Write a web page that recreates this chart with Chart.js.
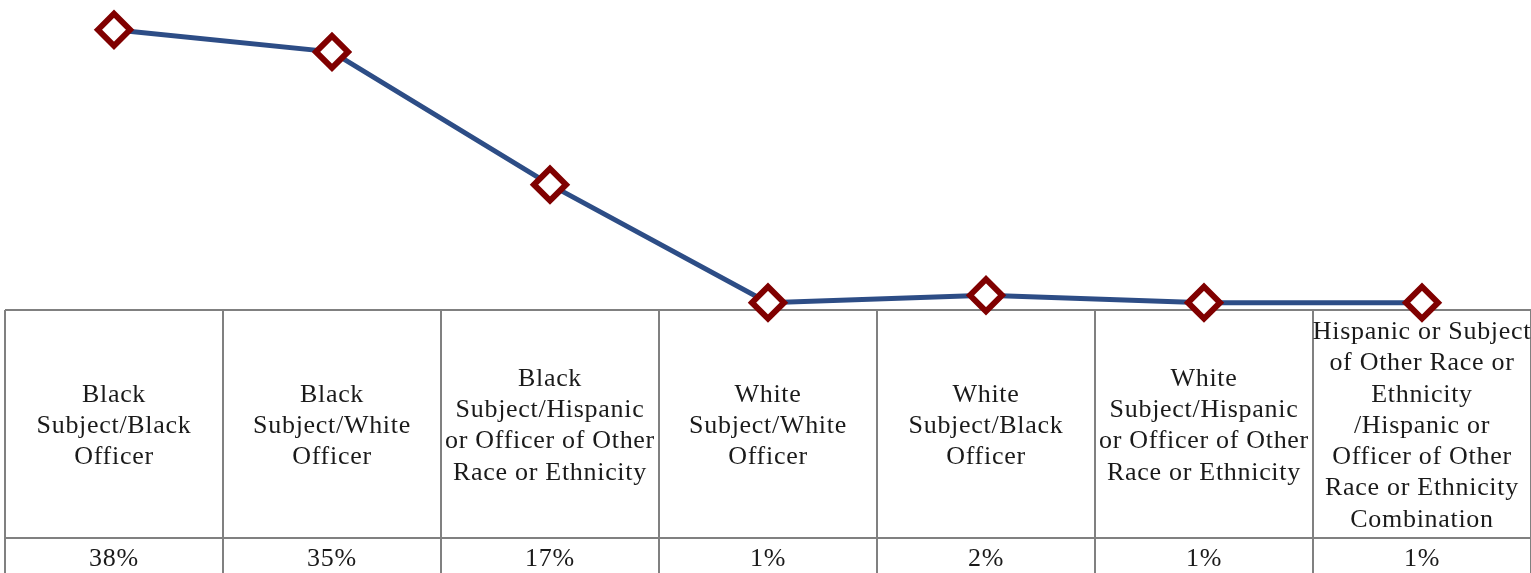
<!DOCTYPE html>
<html>
<head>
<meta charset="utf-8">
<script src="https://cdn.jsdelivr.net/npm/chart.js@4"></script>
<style>
  html, body { margin: 0; padding: 0; background: #fff; }
  #wrap { width: 1531px; height: 573px; position: relative; }
</style>
</head>
<body>
<div id="wrap"><canvas id="c"></canvas></div>
<script>
// Subject/officer race pairings (label lines as wrapped in the table)
const categories = [
  ["Black", "Subject/Black", "Officer"],
  ["Black", "Subject/White", "Officer"],
  ["Black", "Subject/Hispanic", "or Officer of Other", "Race or Ethnicity"],
  ["White", "Subject/White", "Officer"],
  ["White", "Subject/Black", "Officer"],
  ["White", "Subject/Hispanic", "or Officer of Other", "Race or Ethnicity"],
  ["Hispanic or Subject", "of Other Race or", "Ethnicity", "/Hispanic or", "Officer of Other", "Race or Ethnicity", "Combination"]
];
const shares = [38, 35, 17, 1, 2, 1, 1];
const valueLabels = ["38%", "35%", "17%", "1%", "2%", "1%", "1%"];

const FONT = '26px "Liberation Serif", serif';
const TABLE_H = 263;
const LABEL_ROW_H = 228;

// Draws the data table (labels + percentages) beneath the plot area
const dataTable = {
  id: 'dataTable',
  beforeDatasetsDraw(chart) {
    const { ctx, chartArea, scales } = chart;
    const x = scales.x;
    const n = categories.length;
    const step = x.getPixelForValue(1) - x.getPixelForValue(0);
    const top = chartArea.bottom;
    const left = x.getPixelForValue(0) - step / 2;
    const right = x.getPixelForValue(n - 1) + step / 2;
    const bottom = top + TABLE_H + 20;
    const rowSplit = top + LABEL_ROW_H;

    ctx.save();
    ctx.strokeStyle = '#808080';
    ctx.lineWidth = 2;
    ctx.beginPath();
    ctx.moveTo(left, top); ctx.lineTo(right, top);
    ctx.moveTo(left, rowSplit); ctx.lineTo(right, rowSplit);
    for (let i = 0; i <= n; i++) {
      const gx = left + i * step;
      ctx.moveTo(gx, top); ctx.lineTo(gx, bottom);
    }
    ctx.stroke();

    ctx.fillStyle = '#1a1a1a';
    ctx.font = FONT;
    if ('letterSpacing' in ctx) ctx.letterSpacing = '0.7px';
    ctx.textAlign = 'center';
    ctx.textBaseline = 'middle';
    const lh = 31.3;
    const midLabel = (top + rowSplit) / 2 + 2;
    categories.forEach((lines, i) => {
      const cx = x.getPixelForValue(i);
      const y0 = midLabel - (lines.length - 1) * lh / 2;
      lines.forEach((t, j) => ctx.fillText(t, cx, y0 + j * lh));
      ctx.fillText(valueLabels[i], cx, rowSplit + 21);
    });
    ctx.restore();
  }
};

new Chart(document.getElementById('c'), {
  type: 'line',
  data: {
    labels: categories.map(l => l.join(' ')),
    datasets: [{
      data: shares,
      borderColor: '#2D4D86',
      borderWidth: 5,
      pointStyle: 'rectRot',
      pointRadius: 16,
      pointHoverRadius: 16,
      pointBackgroundColor: '#ffffff',
      pointBorderColor: '#800000',
      pointBorderWidth: 6,
      tension: 0,
      clip: false
    }]
  },
  options: {
    responsive: true,
    maintainAspectRatio: false,
    animation: false,
    layout: { autoPadding: false, padding: { left: 5, right: 0, top: 15, bottom: TABLE_H } },
    plugins: { legend: { display: false }, tooltip: { enabled: false } },
    scales: {
      x: { display: false, offset: true },
      y: { display: false, min: 0, max: 40 }
    }
  },
  plugins: [dataTable]
});
</script>
</body>
</html>
